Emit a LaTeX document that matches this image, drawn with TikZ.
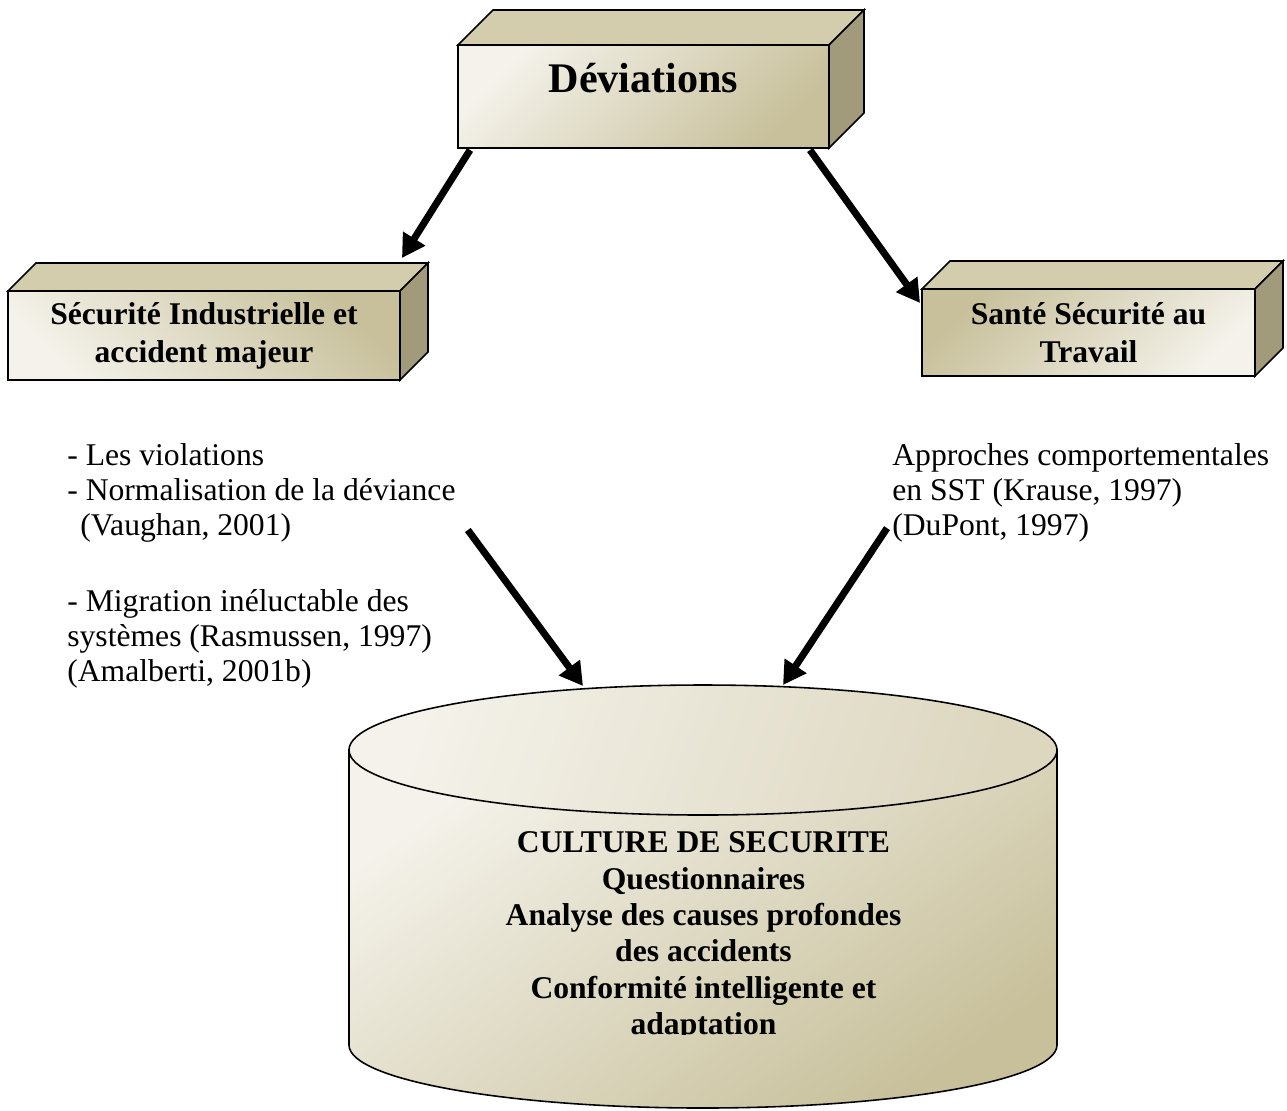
\documentclass[tikz,border=0pt]{standalone}
\usepackage{fontspec}
\setmainfont{Liberation Serif}
\usetikzlibrary{arrows.meta,calc}

\definecolor{sandlight}{HTML}{F4F2EA}
\definecolor{sandmid}{HTML}{DDD7C0}
\definecolor{sanddark}{HTML}{C8C09B}
\definecolor{sandtop}{HTML}{D3CCAD}
\definecolor{sandside}{HTML}{A19B7B}

\tikzset{
 slab/.style={draw,line width=0.9pt,inner sep=0pt,outer sep=0pt,align=center,
   font=\bfseries\fontsize{18}{21.6}\selectfont},
 bigarrow/.style={line width=4pt,-{Triangle[length=0.46cm,width=0.5cm]}},
 plain/.style={inner sep=0pt,align=left,font=\fontsize{18}{19.85}\selectfont},
}

\begin{document}
\begin{tikzpicture}[x=0.02cm,y=-0.02cm]
 \useasboundingbox (0,0) rectangle (1287,1110);
 % boxes
 \node[slab,top color=sandlight,bottom color=sanddark,shading angle=45,
   minimum width=7.42cm,minimum height=2.06cm,text depth=0.76cm,
   font=\bfseries\fontsize{24}{28}\selectfont] (dev) at (643.5,96.5) {Déviations};
 \node[slab,top color=sanddark,bottom color=sandlight,shading angle=-45,
   minimum width=7.84cm,minimum height=1.78cm] (sind) at (204,335.5) {Sécurité Industrielle et\\accident majeur};
 \node[slab,top color=sanddark,bottom color=sandlight,shading angle=45,
   minimum width=6.66cm,minimum height=1.74cm] (sst) at (1088.5,332.5) {Santé Sécurité au\\Travail};
 \foreach \n/\dep in {dev/35,sind/28,sst/28}{
   \filldraw[line width=0.9pt,fill=sandtop] (\n.north west) -- ++(\dep,-\dep) -- ($(\n.north east)+(\dep,-\dep)$) -- (\n.north east) -- cycle;
   \filldraw[line width=0.9pt,fill=sandside] (\n.north east) -- ++(\dep,-\dep) -- ($(\n.south east)+(\dep,-\dep)$) -- (\n.south east) -- cycle;
 }

 % cylinder
 \coordinate (cyl) at (703,750);
 \draw[line width=0.9pt,top color=sandlight,bottom color=sanddark,shading angle=35]
   (349,750) -- (349,1045) arc[start angle=180,end angle=0,x radius=354,y radius=63] -- (1057,750) -- cycle;
 \draw[line width=0.9pt,left color=sandlight,right color=sandmid,shading angle=70]
   (cyl) ellipse[x radius=354,y radius=65];
 \begin{scope}
  \clip (349,800) rectangle (1057,1034);
  \node[inner sep=0pt,align=center,anchor=north,font=\bfseries\fontsize{18}{20.7}\selectfont] (cult) at (703.5,831.5)
    {CULTURE DE SECURITE\\Questionnaires\\Analyse des causes profondes\\des accidents\\Conformité intelligente et\\adaptation};
 \end{scope}

 % texts
 \node[plain,anchor=north west] (viol) at (67,443)
   {- Les violations\\- Normalisation de la déviance\\\hspace*{0.26cm}(Vaughan, 2001)\\[23.8pt]- Migration inéluctable des\\systèmes (Rasmussen, 1997)\\(Amalberti, 2001b)};
 \node[plain,anchor=north west] (compo) at (892,443)
   {Approches comportementales\\en SST (Krause, 1997)\\(DuPont, 1997)};

 % arrows
 \draw[bigarrow] ($(dev.south west)+(12,2)$) -- ($(sind.north east)+(2,-33)$);
 \draw[bigarrow] ($(dev.south east)+(-19,2)$) -- ($(sst.north west)+(-2,14)$);
 \draw[bigarrow] ($(viol.north east)+(12,87)$) -- ($(cyl)+(-120,-64)$);
 \draw[bigarrow] ($(compo.south west)+(-5,-14)$) -- ($(cyl)+(80,-65)$);
\end{tikzpicture}
\end{document}
